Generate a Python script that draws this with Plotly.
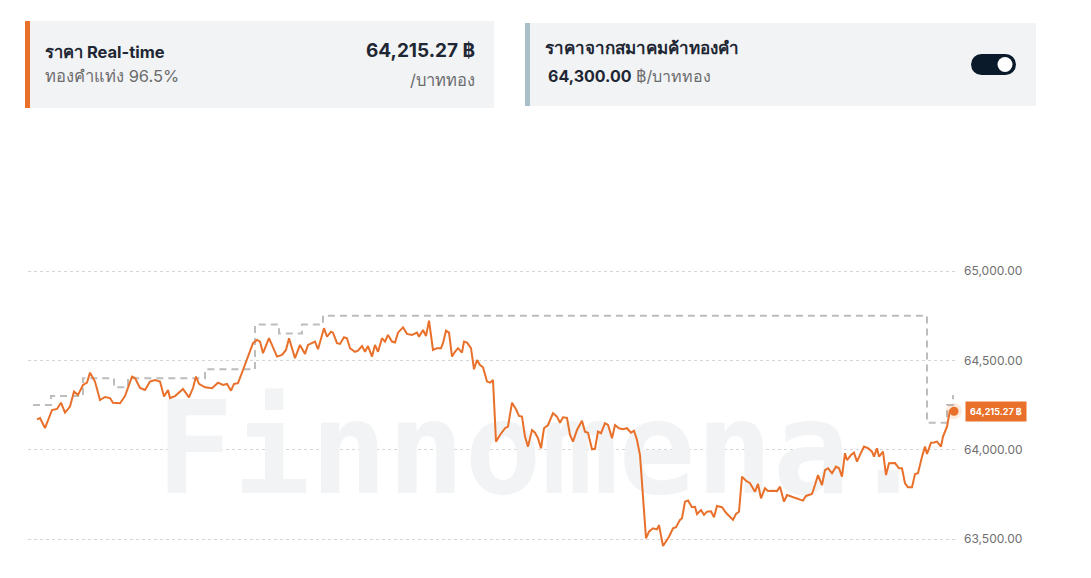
import plotly.graph_objects as go

# ---------------- data ----------------
minute = [1, 4, 9, 16, 21, 25, 29, 34, 38, 42, 47, 51, 54, 59, 64, 69, 74, 77, 84, 89,
          96, 99, 104, 109, 114, 119, 124, 128, 132, 134, 139, 147, 153, 157, 160, 163, 169, 176, 182, 187,
          191, 195, 198, 202, 207, 212, 217, 221, 224, 227, 233, 241, 246, 250, 253, 259, 264, 269, 272, 279,
          282, 288, 291, 295, 297, 301, 304, 308, 311, 314, 319, 322, 326, 329, 332, 336, 339, 342, 346, 349,
          352, 356, 359, 362, 367, 371, 376, 381, 383, 387, 390, 393, 397, 401, 405, 407, 410, 413, 416, 419,
          422, 426, 428, 431, 435, 438, 441, 444, 447, 451, 454, 457, 460, 464, 469, 472, 476, 480, 483, 486,
          489, 492, 496, 499, 502, 505, 508, 512, 517, 521, 524, 527, 531, 534, 537, 541, 546, 549, 552, 556,
          559, 562, 565, 569, 572, 576, 579, 583, 587, 591, 595, 598, 601, 604, 607, 610, 613, 617, 621, 623,
          627, 630, 633, 637, 640, 644, 646, 649, 652, 656, 659, 661, 665, 668, 671, 675, 678, 681, 686, 690,
          693, 697, 700, 703, 706, 710, 714, 719, 722, 725, 729, 732, 737, 741, 744, 748, 751, 756, 761, 767,
          770, 776, 779, 782, 786, 789, 792, 796, 800, 803, 806, 809, 811, 815, 818, 821, 825, 828, 832, 836,
          838, 841, 843, 847, 850, 853, 859, 863, 866, 869, 872, 876, 879, 882, 886, 889, 891, 895, 898, 901,
          905, 907, 911, 914, 917, 918]

realtime_price = [64170, 64177, 64121, 64222, 64228, 64263, 64207, 64241, 64325, 64306,
                  64362, 64375, 64431, 64381, 64278, 64295, 64289, 64263, 64260, 64300,
                  64409, 64401, 64345, 64334, 64381, 64390, 64381, 64297, 64334, 64289,
                  64300, 64340, 64293, 64345, 64409, 64368, 64349, 64344, 64375, 64362,
                  64368, 64330, 64368, 64372, 64446, 64521, 64596, 64614, 64605, 64540,
                  64624, 64521, 64530, 64558, 64624, 64512, 64586, 64536, 64586, 64605,
                  64562, 64680, 64632, 64660, 64655, 64596, 64592, 64629, 64624, 64568,
                  64548, 64554, 64580, 64548, 64580, 64521, 64586, 64548, 64624, 64605,
                  64642, 64605, 64600, 64655, 64685, 64648, 64642, 64655, 64632, 64670,
                  64636, 64722, 64558, 64568, 64568, 64596, 64666, 64655, 64521, 64548,
                  64568, 64543, 64605, 64599, 64568, 64450, 64502, 64474, 64461, 64381,
                  64375, 64390, 64045, 64082, 64120, 64129, 64263, 64226, 64189, 64185,
                  64073, 64017, 64110, 64095, 64064, 64008, 64120, 64138, 64204, 64185,
                  64151, 64181, 64178, 64082, 64045, 64110, 64162, 64101, 64095, 64002,
                  64005, 64101, 64092, 64148, 64138, 64064, 64138, 64120, 64114, 64120,
                  64095, 64106, 64054, 63970, 63718, 63504, 63541, 63560, 63554, 63578,
                  63461, 63485, 63513, 63560, 63566, 63607, 63616, 63709, 63715, 63678,
                  63680, 63640, 63662, 63635, 63653, 63655, 63622, 63685, 63678, 63647,
                  63629, 63607, 63640, 63653, 63849, 63826, 63812, 63765, 63808, 63728,
                  63784, 63769, 63770, 63768, 63793, 63709, 63746, 63737, 63724, 63715,
                  63741, 63752, 63802, 63858, 63802, 63886, 63896, 63868, 63905, 63896,
                  63849, 63980, 63942, 63970, 63983, 63933, 63983, 64017, 64008, 63989,
                  63961, 64008, 63961, 63989, 63858, 63924, 63925, 63896, 63896, 63812,
                  63790, 63790, 63864, 63868, 63961, 64017, 63976, 64039, 64040, 64045,
                  64017, 64073, 64129, 64222, 64204, 64215.27]

assoc_minute = [-3, 15, 47, 78, 92, 169, 219, 243, 266, 287, 891, 911, 917, 918]
assoc_price = [64250, 64300, 64400, 64350, 64400, 64450, 64700, 64650, 64700, 64750,
               64150, 64250, 64300, 64300]

y_ticks = [63500, 64000, 64500, 65000]

last_price = realtime_price[-1]
assoc_last = assoc_price[-1]

# ---------------- layout geometry ----------------
W, H = 1091, 578
L, R, T, B = 28, 136, 200, 10
PW, PH = W - L - R, H - T - B

def px(x):
    return (x - L) / PW

def py(y):
    return (H - B - y) / PH

ORANGE = "#e8702a"
DARK = "#1e2733"
GREY = "#6b6b6b"
CARD_BG = "#f1f3f5"
FONT = "Inter, 'Noto Sans', sans-serif"

x_range = [-8, 919]
y_range = [63337.7, 65397.4]

fig = go.Figure()

# watermark (below data)
fig.add_trace(go.Scatter(
    x=[(x_range[0] + x_range[1]) / 2 + 50], y=[63935],
    mode="text", text=["Finnomena."],
    textfont=dict(family="DejaVu Sans Mono", size=128, color="#f2f3f4", weight="bold"),
    textposition="middle center", hoverinfo="skip", showlegend=False,
))

# association price (step, dashed)
fig.add_trace(go.Scatter(
    x=assoc_minute, y=assoc_price, mode="lines",
    line=dict(color="#bdbdbd", width=2, dash="7px,5px", shape="hv"),
    hoverinfo="skip", showlegend=False,
))

# realtime price
fig.add_trace(go.Scatter(
    x=minute, y=realtime_price, mode="lines",
    line=dict(color=ORANGE, width=2),
    showlegend=False,
))

# last point halo + dot
fig.add_trace(go.Scatter(
    x=[minute[-1]], y=[last_price], mode="markers",
    marker=dict(size=16, color="rgba(232,112,42,0.15)"),
    hoverinfo="skip", showlegend=False, cliponaxis=False,
))
fig.add_trace(go.Scatter(
    x=[minute[-1]], y=[last_price], mode="markers",
    marker=dict(size=9, color=ORANGE),
    hoverinfo="skip", showlegend=False, cliponaxis=False,
))

shapes = []
annotations = []

# card 1
shapes.append(dict(type="rect", xref="paper", yref="paper",
                   x0=px(25), x1=px(494), y0=py(108), y1=py(21),
                   fillcolor=CARD_BG, line=dict(width=0), layer="below"))
shapes.append(dict(type="rect", xref="paper", yref="paper",
                   x0=px(25), x1=px(30), y0=py(108), y1=py(21),
                   fillcolor=ORANGE, line=dict(width=0)))
# card 2
shapes.append(dict(type="rect", xref="paper", yref="paper",
                   x0=px(525), x1=px(1036), y0=py(106), y1=py(23),
                   fillcolor=CARD_BG, line=dict(width=0), layer="below"))
shapes.append(dict(type="rect", xref="paper", yref="paper",
                   x0=px(525), x1=px(530), y0=py(106), y1=py(23),
                   fillcolor="#a8bfca", line=dict(width=0)))

# toggle switch
tc_y, tr = 64.5, 10.5
for cx in (981.5, 1005.5):
    shapes.append(dict(type="circle", xref="paper", yref="paper",
                       x0=px(cx - tr), x1=px(cx + tr), y0=py(tc_y + tr), y1=py(tc_y - tr),
                       fillcolor="#0b1a2b", line=dict(width=0)))
shapes.append(dict(type="rect", xref="paper", yref="paper",
                   x0=px(981.5), x1=px(1005.5), y0=py(tc_y + tr), y1=py(tc_y - tr),
                   fillcolor="#0b1a2b", line=dict(width=0)))
kr = 7.5
shapes.append(dict(type="circle", xref="paper", yref="paper",
                   x0=px(1005 - kr), x1=px(1005 + kr), y0=py(tc_y + kr), y1=py(tc_y - kr),
                   fillcolor="#ffffff", line=dict(width=0)))

def txt(x, y, text, size, color, anchor="left", bold=False):
    annotations.append(dict(
        xref="paper", yref="paper", x=px(x), y=py(y), text=("<b>%s</b>" % text) if bold else text,
        showarrow=False, xanchor=anchor, yanchor="middle",
        font=dict(family=FONT, size=size, color=color)))

txt(43, 52, "ราคา Real-time", 16.5, DARK, bold=True)
txt(43, 76, "ทองคำแท่ง 96.5%", 16.5, GREY)
txt(477, 51, "{:,.2f} ฿".format(last_price), 19, DARK, anchor="right", bold=True)
txt(477, 80, "/บาททอง", 16.5, GREY, anchor="right")

txt(543, 48, "ราคาจากสมาคมค้าทองคำ", 17, DARK, bold=True)
txt(546, 76, "<b>{:,.2f}</b><span style='color:{}'> ฿/บาททอง</span>".format(assoc_last, GREY), 16, DARK)

# last value label
annotations.append(dict(
    xref="paper", yref="y", x=px(965), y=last_price,
    text="<b>{:,.2f} ฿</b>".format(last_price), showarrow=False,
    xanchor="left", yanchor="middle", bgcolor=ORANGE, borderpad=4,
    font=dict(family=FONT, size=9, color="#ffffff")))

fig.update_layout(
    width=W, height=H,
    margin=dict(l=L, r=R, t=T, b=B, pad=0),
    paper_bgcolor="#ffffff", plot_bgcolor="#ffffff",
    shapes=shapes, annotations=annotations,
    showlegend=False,
    hovermode="x",
    xaxis=dict(range=x_range, showgrid=False, zeroline=False, showticklabels=False,
               showline=False, ticks="", fixedrange=True),
    yaxis=dict(range=y_range, side="right", tickvals=y_ticks, tickformat=",.2f",
               showgrid=True, gridcolor="#d6d6d6", griddash="dot", gridwidth=1,
               zeroline=False, showline=False, ticks="", ticklabelstandoff=8,
               tickfont=dict(family=FONT, size=12, color="#6f6f6f"), fixedrange=True),
)

fig.write_html("out.html", config={"displayModeBar": False},
               post_script="document.body.style.margin='0px';document.body.style.overflow='hidden';")
